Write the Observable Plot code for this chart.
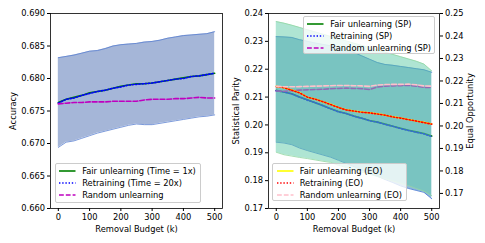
<!DOCTYPE html>
<html><head><meta charset="utf-8">
<script src="https://cdn.jsdelivr.net/npm/d3@7"></script>
<script src="https://cdn.jsdelivr.net/npm/@observablehq/plot@0.6"></script>
<style>
body{margin:0;background:#fff;}
#chart{position:relative;width:485px;height:243px;font-family:"DejaVu Sans",sans-serif;overflow:hidden;}
#chart svg{position:absolute;left:0;top:0;}
.legend{position:absolute;background:rgba(255,255,255,0.8);border:0.8px solid #cccccc;border-radius:2px;box-sizing:border-box;}
.legend .row{position:absolute;left:0;height:12px;width:100%;}
.legend .row svg{position:absolute;top:0;}
.legend .row span{position:absolute;top:0;line-height:12px;font-size:8.3px;white-space:nowrap;color:#000;}
</style></head><body><div id="chart"></div>
<script>
// ---------- data ----------
const budget = [0,25,50,75,100,125,150,175,200,225,250,275,300,325,350,375,400,425,450,475,500];
const xTicks = [0,100,200,300,400,500];
const accTicks = [0.660,0.665,0.670,0.675,0.680,0.685,0.690];
const spTicks = [0.17,0.18,0.19,0.20,0.21,0.22,0.23,0.24];
const eoTicks = [0.17,0.18,0.19,0.20,0.21,0.22,0.23,0.24,0.25];

const accFair    = [0.6763,0.6768,0.6771,0.6774,0.6778,0.6780,0.6782,0.6785,0.6788,0.6790,0.6792,0.6792,0.6793,0.6795,0.6797,0.6799,0.6801,0.6803,0.6804,0.6806,0.6808];
const accRetrain = [0.6762,0.6768,0.6770,0.6774,0.6777,0.6780,0.6782,0.6785,0.6787,0.6790,0.6791,0.6792,0.6793,0.6795,0.6797,0.6799,0.6800,0.6803,0.6804,0.6806,0.6808];
const accRandom  = [0.6761,0.6762,0.6763,0.6763,0.6764,0.6764,0.6764,0.6765,0.6765,0.6765,0.6765,0.6767,0.6768,0.6768,0.6768,0.6769,0.6769,0.6770,0.6771,0.6770,0.6770];
const accUpper   = [0.6832,0.6834,0.6836,0.6839,0.6842,0.6843,0.6846,0.6850,0.6852,0.6853,0.6854,0.6856,0.6857,0.6859,0.6862,0.6864,0.6866,0.6867,0.6868,0.6869,0.6872];
const accLower   = [0.6694,0.6702,0.6704,0.6708,0.6712,0.6716,0.6719,0.6722,0.6725,0.6728,0.6730,0.6729,0.6729,0.6731,0.6733,0.6735,0.6737,0.6739,0.6741,0.6742,0.6744];

const spFair    = [0.2124,0.2118,0.2112,0.2100,0.2090,0.2080,0.2070,0.2058,0.2048,0.2041,0.2032,0.2024,0.2016,0.2010,0.2003,0.1995,0.1988,0.1981,0.1975,0.1969,0.1960];
const spRetrain = [0.2123,0.2118,0.2111,0.2100,0.2089,0.2080,0.2069,0.2058,0.2047,0.2041,0.2031,0.2024,0.2015,0.2010,0.2002,0.1995,0.1987,0.1980,0.1974,0.1968,0.1958];
const spRandom  = [0.2122,0.2121,0.2123,0.2125,0.2126,0.2127,0.2128,0.2130,0.2131,0.2132,0.2131,0.2130,0.2127,0.2136,0.2139,0.2140,0.2141,0.2142,0.2139,0.2135,0.2134];
const spUpper   = [0.2317,0.2316,0.2314,0.2306,0.2300,0.2294,0.2289,0.2284,0.2278,0.2270,0.2260,0.2248,0.2236,0.2224,0.2217,0.2214,0.2210,0.2206,0.2202,0.2198,0.2189];
const spLower   = [0.1938,0.1935,0.1929,0.1917,0.1908,0.1900,0.1892,0.1884,0.1873,0.1862,0.1850,0.1838,0.1826,0.1816,0.1804,0.1793,0.1781,0.1772,0.1765,0.1758,0.1735];

const eoFair    = [0.2176,0.2170,0.2160,0.2148,0.2128,0.2120,0.2108,0.2096,0.2082,0.2072,0.2066,0.2062,0.2058,0.2054,0.2048,0.2041,0.2035,0.2029,0.2022,0.2016,0.2009];
const eoRetrain = [0.2175,0.2170,0.2159,0.2147,0.2128,0.2119,0.2108,0.2095,0.2082,0.2071,0.2066,0.2061,0.2058,0.2053,0.2048,0.2040,0.2035,0.2028,0.2022,0.2015,0.2008];
const eoRandom  = [0.2176,0.2174,0.2174,0.2175,0.2176,0.2177,0.2178,0.2179,0.2180,0.2180,0.2179,0.2178,0.2176,0.2182,0.2184,0.2185,0.2185,0.2186,0.2183,0.2178,0.2177];
const eoUpper   = [0.2464,0.2457,0.2448,0.2438,0.2428,0.2418,0.2408,0.2398,0.2388,0.2378,0.2368,0.2358,0.2348,0.2338,0.2328,0.2318,0.2308,0.2298,0.2288,0.2275,0.2245];
const eoLower   = [0.1883,0.1872,0.1866,0.1860,0.1855,0.1849,0.1843,0.1838,0.1825,0.1815,0.1805,0.1795,0.1785,0.1775,0.1765,0.1755,0.1745,0.1735,0.1722,0.1710,0.1690];

// ---------- tables ----------
const acc = budget.map((k,i)=>({k, fair:accFair[i], retrain:accRetrain[i], random:accRandom[i], hi:accUpper[i], lo:accLower[i]}));
const sp  = budget.map((k,i)=>({k, fair:spFair[i], retrain:spRetrain[i], random:spRandom[i], hi:spUpper[i], lo:spLower[i]}));
const eo  = budget.map((k,i)=>({k, fair:eoFair[i], retrain:eoRetrain[i], random:eoRandom[i], hi:eoUpper[i], lo:eoLower[i]}));

const FONT = "DejaVu Sans";
const common = {width:485, height:243, marginTop:13, marginBottom:35,
  style:{fontFamily:FONT, fontSize:"8.3px", color:"black", background:"transparent", overflow:"visible"}};
const LW = 1.6, DOT = "1.4,1.8", DASH = "4.8,2";
const xScale = {domain:[-25,525]};
const axX = () => Plot.axisX({ticks:xTicks, tickSize:3, tickPadding:3, label:null});
const lbl = (t, o) => Plot.text([t], {text:d=>d, ...o});

const chart = document.getElementById("chart");

// Left: accuracy
chart.appendChild(Plot.plot({...common, marginLeft:50, marginRight:263,
  x:xScale, y:{domain:[0.66,0.69]},
  marks:[
    Plot.areaY(acc,{x:"k", y1:"lo", y2:"hi", fill:"#a5b6d8"}),
    Plot.line(acc,{x:"k", y:"hi", stroke:"#5b80d0", strokeWidth:0.8}),
    Plot.line(acc,{x:"k", y:"lo", stroke:"#5b80d0", strokeWidth:0.8}),
    Plot.line(acc,{x:"k", y:"fair", stroke:"#008000", strokeWidth:LW}),
    Plot.line(acc,{x:"k", y:"retrain", stroke:"#0000ff", strokeWidth:LW, strokeDasharray:DOT}),
    Plot.line(acc,{x:"k", y:"random", stroke:"#bf00bf", strokeWidth:LW, strokeDasharray:DASH}),
    Plot.frame({stroke:"black", strokeWidth:0.8}),
    axX(),
    Plot.axisY({ticks:accTicks, tickFormat:d3.format(".3f"), tickSize:3, tickPadding:2.5, label:null}),
    lbl("Accuracy", {frameAnchor:"left", dx:-37, rotate:-90, textAnchor:"middle", lineAnchor:"middle"}),
    lbl("Removal Budget (k)", {frameAnchor:"bottom", dy:21, lineAnchor:"middle"})
  ]}));

// Right: statistical parity (left axis)
chart.appendChild(Plot.plot({...common, marginLeft:268, marginRight:46,
  x:xScale, y:{domain:[0.17,0.24]},
  marks:[
    Plot.areaY(sp,{x:"k", y1:"lo", y2:"hi", fill:"#1f77b4", fillOpacity:0.5}),
    Plot.line(sp,{x:"k", y:"hi", stroke:"#3a6fd0", strokeWidth:0.8}),
    Plot.line(sp,{x:"k", y:"lo", stroke:"#3a6fd0", strokeWidth:0.8}),
    Plot.line(sp,{x:"k", y:"fair", stroke:"#008000", strokeWidth:LW}),
    Plot.line(sp,{x:"k", y:"retrain", stroke:"#0000ff", strokeWidth:LW, strokeDasharray:DOT}),
    Plot.line(sp,{x:"k", y:"random", stroke:"#bf00bf", strokeWidth:LW, strokeDasharray:DASH}),
    Plot.frame({stroke:"black", strokeWidth:0.8}),
    axX(),
    Plot.axisY({ticks:spTicks, tickFormat:d3.format(".2f"), tickSize:3, tickPadding:2.5, label:null}),
    lbl("Statistical Parity", {frameAnchor:"left", dx:-32, rotate:-90, textAnchor:"middle", lineAnchor:"middle"}),
    lbl("Removal Budget (k)", {frameAnchor:"bottom", dy:21, lineAnchor:"middle"})
  ]}));

// Right: equal opportunity (twin right axis)
chart.appendChild(Plot.plot({...common, marginLeft:268, marginRight:46,
  x:{...xScale, axis:null}, y:{domain:[0.1633,0.25]},
  marks:[
    Plot.areaY(eo,{x:"k", y1:"lo", y2:"hi", fill:"#66cdaa", fillOpacity:0.52}),
    Plot.line(eo,{x:"k", y:"hi", stroke:"#8fd6a0", strokeWidth:0.8}),
    Plot.line(eo,{x:"k", y:"lo", stroke:"#8fd6a0", strokeWidth:0.8}),
    Plot.line(eo,{x:"k", y:"fair", stroke:"#ffff00", strokeWidth:LW}),
    Plot.line(eo,{x:"k", y:"retrain", stroke:"#ff0000", strokeWidth:LW, strokeDasharray:DOT}),
    Plot.line(eo,{x:"k", y:"random", stroke:"#ffc0cb", strokeWidth:LW, strokeDasharray:DASH}),
    Plot.axisY({anchor:"right", ticks:eoTicks, tickFormat:d3.format(".2f"), tickSize:3, tickPadding:2.5, label:null}),
    lbl("Equal Opportunity", {frameAnchor:"right", dx:31, rotate:-90, textAnchor:"middle", lineAnchor:"middle"})
  ]}));

// ---------- legends ----------
function legend(box, items){
  const div = document.createElement("div");
  div.className = "legend";
  Object.assign(div.style, {left:box.x+"px", top:box.y+"px", width:box.w+"px", height:box.h+"px"});
  const rows = [7.7, 19.5, 31.3];
  items.forEach((it,i)=>{
    const r = document.createElement("div");
    r.className = "row";
    r.style.top = (rows[i]-6-0.8)+"px";
    r.innerHTML = `<svg width="17" height="12" style="left:3.7px"><line x1="0" x2="16.5" y1="6" y2="6" stroke="${it.color}" stroke-width="${LW}" ${it.dash?`stroke-dasharray="${it.dash}"`:""}/></svg><span style="left:26.7px">${it.label}</span>`;
    div.appendChild(r);
  });
  chart.appendChild(div);
}
legend({x:54.5, y:163, w:146, h:40}, [
  {label:"Fair unlearning (Time = 1x)", color:"#008000"},
  {label:"Retraining (Time = 20x)", color:"#0000ff", dash:DOT},
  {label:"Random unlearning", color:"#bf00bf", dash:DASH}
]);
legend({x:302.5, y:16, w:132.5, h:37.5}, [
  {label:"Fair unlearning (SP)", color:"#008000"},
  {label:"Retraining (SP)", color:"#0000ff", dash:DOT},
  {label:"Random unlearning (SP)", color:"#bf00bf", dash:DASH}
]);
legend({x:272, y:163.3, w:134.5, h:37.5}, [
  {label:"Fair unlearning (EO)", color:"#ffff00"},
  {label:"Retraining (EO)", color:"#ff0000", dash:DOT},
  {label:"Random unlearning (EO)", color:"#ffc0cb", dash:DASH}
]);
</script></body></html>
